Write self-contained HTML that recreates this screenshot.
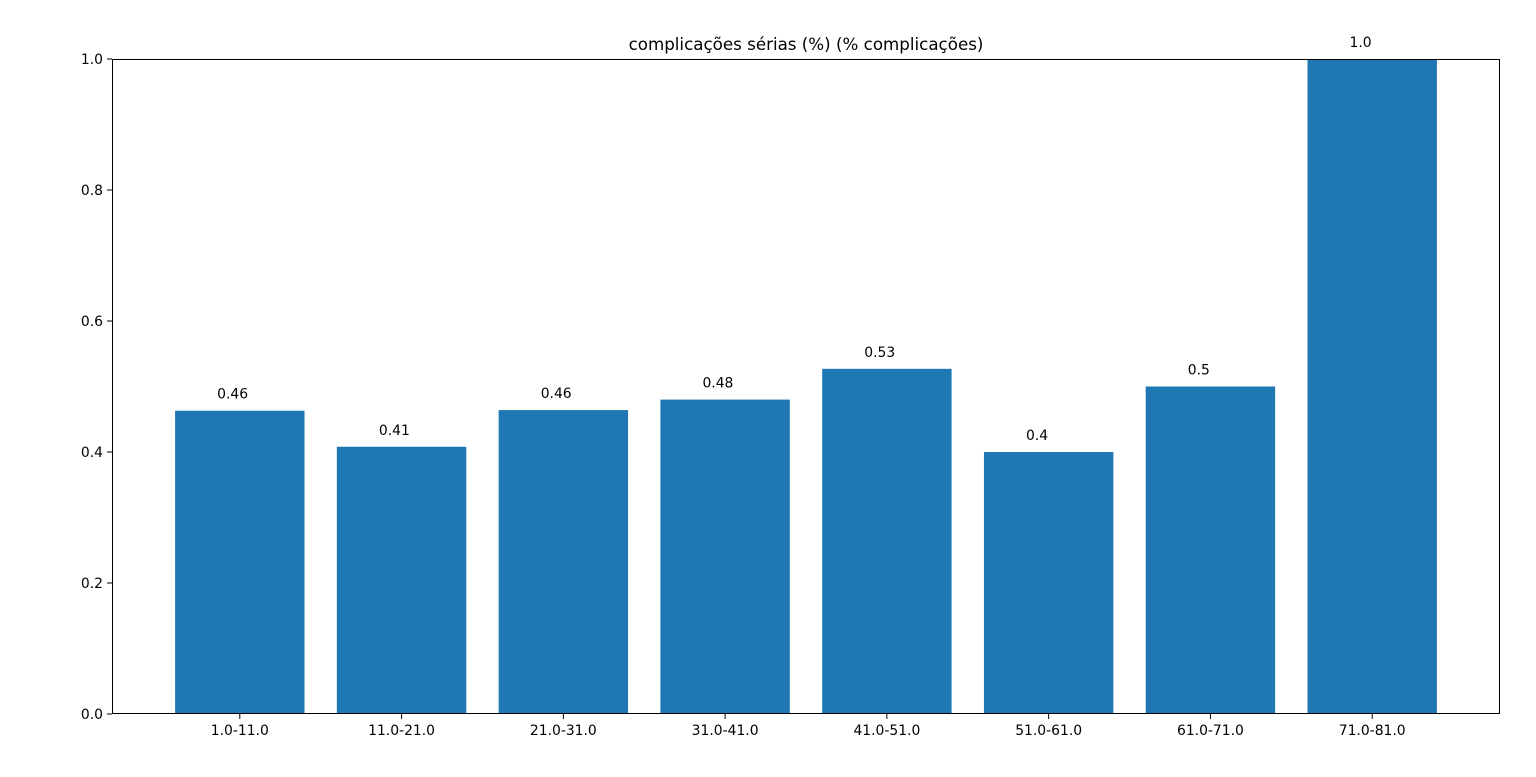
<!DOCTYPE html>
<html><head><meta charset="utf-8"><style>
html,body{margin:0;padding:0;background:#fff;}
svg{display:block;font-family:"DejaVu Sans","Liberation Sans",sans-serif;}
</style></head><body>
<svg id="chart" width="1536" height="777"></svg>
<script>
const categories = ["1.0-11.0","11.0-21.0","21.0-31.0","31.0-41.0","41.0-51.0","51.0-61.0","61.0-71.0","71.0-81.0"];
const values = [0.463, 0.408, 0.464, 0.480, 0.527, 0.400, 0.500, 1.000];
const valueLabels = ["0.46","0.41","0.46","0.48","0.53","0.4","0.5","1.0"];
const yTicks = [0, 0.2, 0.4, 0.6, 0.8, 1.0];
const yTickLabels = ["0.0","0.2","0.4","0.6","0.8","1.0"];

const NS = "http://www.w3.org/2000/svg";
const svg = document.getElementById("chart");
const L = 112, R = 1500, T = 59, B = 714;
const xMin = -0.79, xMax = categories.length - 1 + 0.79;
const xs = v => L + (v - xMin) / (xMax - xMin) * (R - L);
const ys = v => B - v * (B - T);
function mk(tag, attrs, text) {
  const e = document.createElementNS(NS, tag);
  for (const k in attrs) e.setAttribute(k, attrs[k]);
  if (text !== undefined) e.textContent = text;
  svg.appendChild(e);
  return e;
}
const bw = 0.8;
categories.forEach((c, i) => {
  const x0 = xs(i - bw / 2), x1 = xs(i + bw / 2);
  const r = mk("rect", {x: x0, y: ys(values[i]), width: x1 - x0, height: ys(0) - ys(values[i]), fill: "#1f77b4"});
  
  
  const t = mk("text", {x: xs(i - bw / 2 + 0.26), y: ys(values[i]) - 12, "font-size": "13.9", fill: "#000"}, valueLabels[i]);
  
  
  const tk = mk("line", {x1: xs(i), x2: xs(i), y1: B, y2: B + 5, stroke: "#000", "stroke-width": 1});
  
  
  const tl = mk("text", {x: xs(i), y: B + 21, "font-size": "13.9", "text-anchor": "middle", fill: "#000"}, c);
  
  
});
yTicks.forEach((v, i) => {
  const tk = mk("line", {x1: L - 5, x2: L, y1: ys(v), y2: ys(v), stroke: "#000", "stroke-width": 1});
  
  
  const tl = mk("text", {x: L - 9, y: ys(v) + 5, "font-size": "13.9", "text-anchor": "end", fill: "#000"}, yTickLabels[i]);
  
  
});
const frame = mk("rect", {x: L + 0.5, y: T + 0.5, width: R - L - 1, height: B - T - 1, fill: "none", stroke: "#000", "stroke-width": 1});


const title = mk("text", {x: (L + R) / 2, y: 50, "font-size": "16.7", "text-anchor": "middle", fill: "#000"}, "complicações sérias (%) (% complicações)");


</script>
</body></html>
